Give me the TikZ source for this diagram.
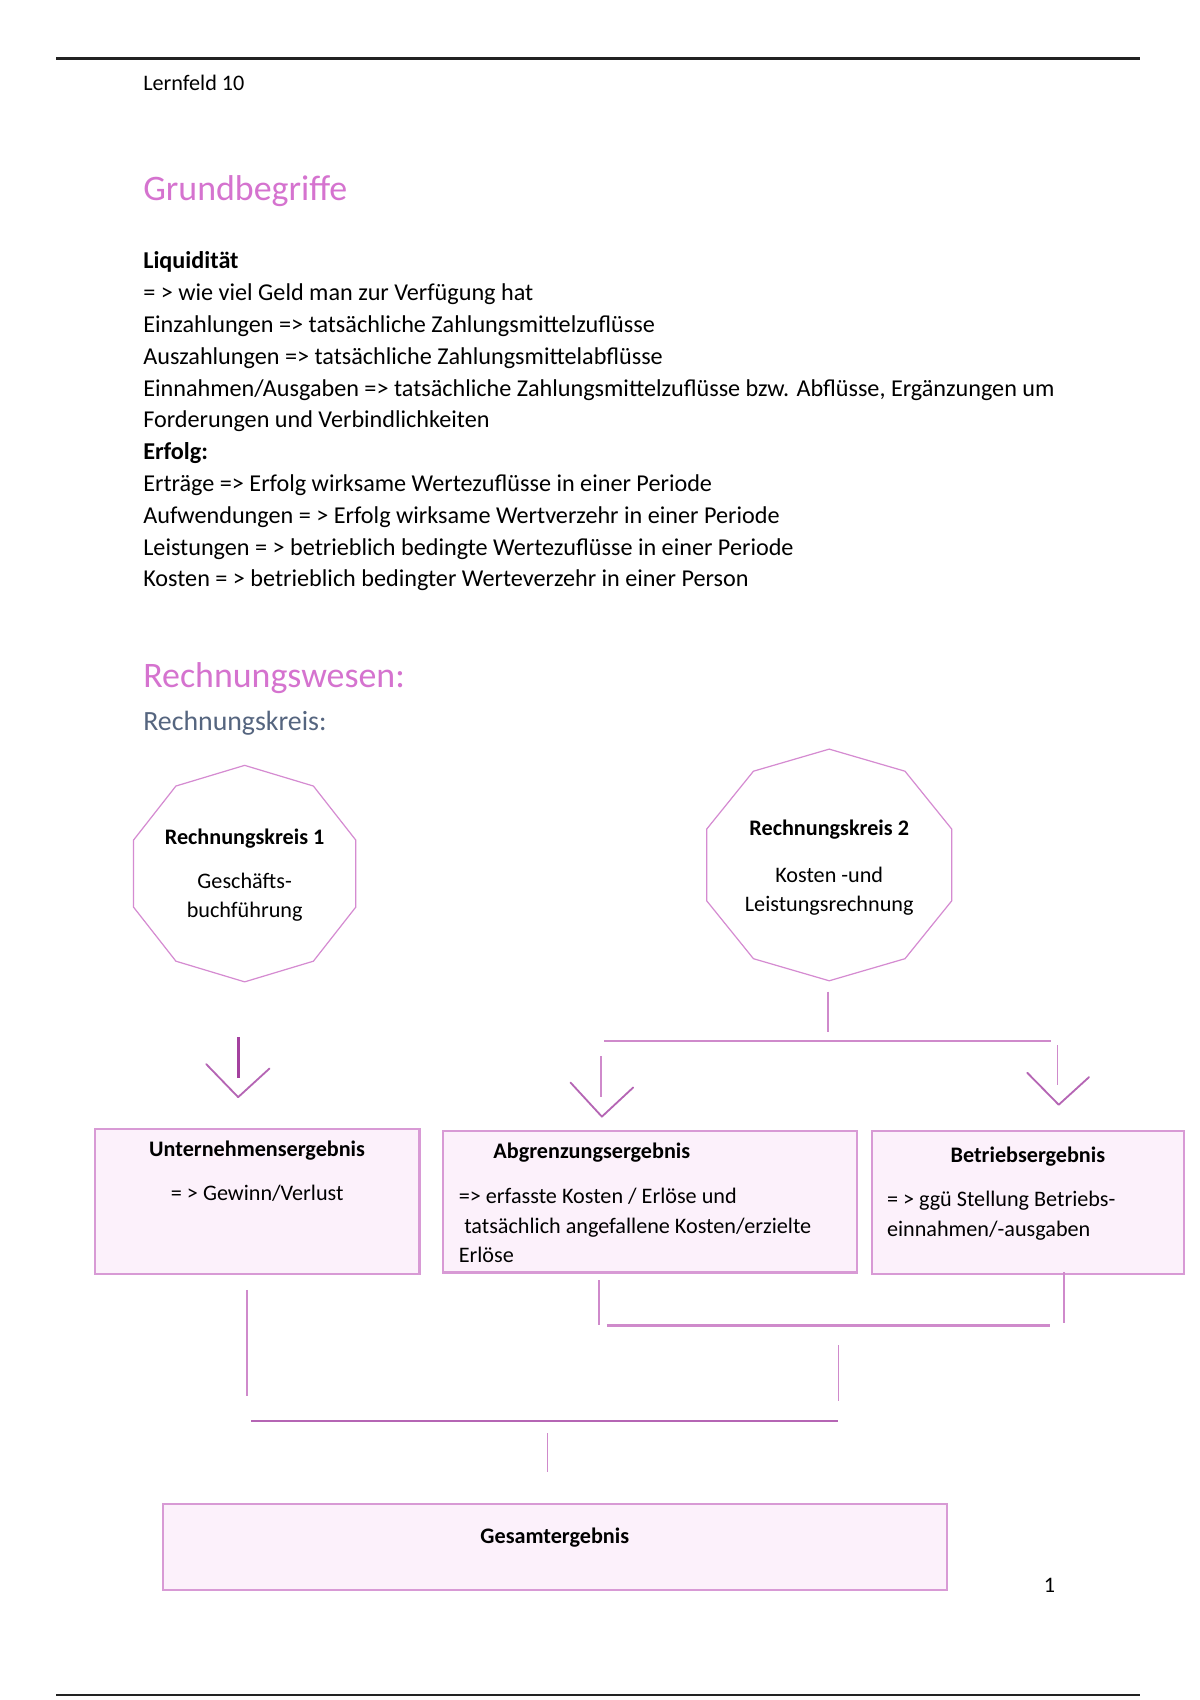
\documentclass[tikz,border=0pt]{standalone}
\usepackage{fontspec}
\setmainfont{Carlito}
\definecolor{headpink}{HTML}{D573CF}
\definecolor{headblue}{HTML}{55657F}
\definecolor{boxline}{HTML}{D89AD5}
\definecolor{boxfill}{HTML}{FCF1FB}
\definecolor{conline}{HTML}{CF8ACB}
\definecolor{darkcon}{HTML}{A4419F}
\definecolor{vcol}{HTML}{B565B4}
\definecolor{polyline}{HTML}{D58BD1}
\definecolor{rulecol}{HTML}{222222}
\tikzset{
  bodytext/.style={anchor=base west,inner sep=0pt,font=\fontsize{11}{13}\selectfont},
  maintext/.style={anchor=base west,inner sep=0pt,font=\fontsize{12}{14}\selectfont},
  mainbold/.style={maintext,font=\fontsize{12}{14}\selectfont\bfseries},
  boldtext/.style={bodytext,font=\fontsize{11}{13}\selectfont\bfseries},
  ctext/.style={anchor=base,inner sep=0pt,font=\fontsize{11}{13}\selectfont},
  cbold/.style={ctext,font=\fontsize{11}{13}\selectfont\bfseries},
  headone/.style={anchor=base west,inner sep=0pt,text=headpink,font=\fontsize{17.8}{21}\selectfont},
  headtwo/.style={anchor=base west,inner sep=0pt,text=headblue,font=\fontsize{13.8}{16}\selectfont},
  resbox/.style={draw=boxline,fill=boxfill,line width=1.1pt},
  conn/.style={draw=conline,line width=0.7pt},
  darkconn/.style={draw=darkcon,line width=1.4pt},
  vshape/.style={draw=vcol,line width=0.9pt,line join=round,line cap=round},
  polyshape/.style={draw=polyline,line width=0.6pt},
  pagerule/.style={draw=rulecol,line width=1.1pt}
}
\begin{document}
\begin{tikzpicture}[x=0.537pt,y=-0.537pt]
\useasboundingbox (0,0) rectangle (1108.5,1570.4);
\fill[white] (0,0) rectangle (1108.5,1570.4);
% page rules
\coordinate (rtl) at (52,54); \coordinate (rtr) at (1053,54);
\draw[pagerule] (rtl) -- (rtr);
\coordinate (rbl) at (52,1566); \coordinate (rbr) at (1053,1566);
\draw[pagerule] (rbl) -- (rbr);
\node[bodytext] (lf) at (132,84) {Lernfeld 10};
% Grundbegriffe
\node[headone] (h1) at (132,185) {Grundbegriffe};
\node[mainbold] (t1) at (132,248) {Liquidität};
\node[maintext] (t2) at (132,278) {= > wie viel Geld man zur Verfügung hat};
\node[maintext] (t3) at (132,307.5) {Einzahlungen => tatsächliche Zahlungsmittelzuflüsse};
\node[maintext] (t4) at (132,337) {Auszahlungen => tatsächliche Zahlungsmittelabflüsse};
\node[maintext] (t5) at (132,366.5) {Einnahmen/Ausgaben => tatsächliche Zahlungsmittelzuflüsse bzw. Abflüsse, Ergänzungen um};
\node[maintext] (t6) at (132,395) {Forderungen und Verbindlichkeiten};
\node[mainbold] (t7) at (132,424.5) {Erfolg:};
\node[maintext] (t8) at (132,454) {Erträge => Erfolg wirksame Wertezuflüsse in einer Periode};
\node[maintext] (t9) at (132,483.5) {Aufwendungen = > Erfolg wirksame Wertverzehr in einer Periode};
\node[maintext] (t10) at (132,513) {Leistungen = > betrieblich bedingte Wertezuflüsse in einer Periode};
\node[maintext] (t11) at (132,542) {Kosten = > betrieblich bedingter Werteverzehr in einer Person};
% Rechnungswesen
\node[headone] (h2) at (132,635) {Rechnungswesen:};
\node[headtwo] (h3) at (132,675) {Rechnungskreis:};
% decagon 1
\coordinate (d1) at (226,807);
\draw[polyshape] (226,707) -- (289.5,726.1) -- (328.7,776.1) -- (328.7,837.9) -- (289.5,887.9) -- (226,907) -- (162.5,887.9) -- (123.3,837.9) -- (123.3,776.1) -- (162.5,726.1) -- cycle;
\node[cbold] (rk1) at (226,780) {Rechnungskreis 1};
\node[ctext] (rk1a) at (226,820.5) {Geschäfts-};
\node[ctext] (rk1b) at (226,847.5) {buchführung};
% decagon 2
\draw[polyshape] (766,692) -- (836,712.4) -- (879.2,765.9) -- (879.2,832.1) -- (836,885.6) -- (766,906) -- (696,885.6) -- (652.8,832.1) -- (652.8,765.9) -- (696,712.4) -- cycle;
\coordinate (d2b) at (766,906);
\node[cbold] (rk2) at (766,772) {Rechnungskreis 2};
\node[ctext] (rk2a) at (766,815) {Kosten -und};
\node[ctext] (rk2b) at (766,842) {Leistungsrechnung};
% connectors from decagon 2
\coordinate (s2a) at (765,916); \coordinate (s2b) at (765,953);
\draw[conn] (s2a) -- (s2b);
\coordinate (hl) at (558,961.5); \coordinate (hr) at (971,961.5);
\draw[conn] (hl) -- (hr);
% arrows
\coordinate (a1t) at (220,958); \coordinate (a1b) at (220,996);
\draw[darkconn] (a1t) -- (a1b);
\coordinate (v1l) at (190.5,983); \coordinate (v1m) at (220,1013.5); \coordinate (v1r) at (249,987);
\draw[vshape] (v1l) -- (v1m) -- (v1r);
\coordinate (a2t) at (555.5,975.5); \coordinate (a2b) at (555.5,1013);
\draw[conn,line width=0.9pt] (a2t) -- (a2b);
\coordinate (v2l) at (527,1000); \coordinate (v2m) at (556,1031.5); \coordinate (v2r) at (585,1004.5);
\draw[vshape] (v2l) -- (v2m) -- (v2r);
\coordinate (a3t) at (977,965.5); \coordinate (a3b) at (977,1002);
\draw[conn] (a3t) -- (a3b);
\coordinate (v3l) at (949,991); \coordinate (v3m) at (978,1020.5); \coordinate (v3r) at (1006,995);
\draw[vshape] (v3l) -- (v3m) -- (v3r);
% result boxes
\draw[resbox] (88,1043) rectangle (387.5,1177);
\node[cbold] (u1) at (237.5,1068.5) {Unternehmensergebnis};
\node[bodytext] (u2) at (157.5,1109) {= > Gewinn/Verlust};
\draw[resbox] (409.5,1045) rectangle (791.5,1175.5);
\node[boldtext] (g1) at (455.5,1070.5) {Abgrenzungsergebnis};
\node[bodytext] (g2) at (423.5,1111.5) {=> erfasste Kosten / Erlöse und};
\node[bodytext] (g3) at (428.5,1139) {tatsächlich angefallene Kosten/erzielte};
\node[bodytext] (g4) at (423.5,1166.5) {Erlöse};
\draw[resbox] (805.5,1045) rectangle (1094,1177);
\node[cbold] (b1) at (949.5,1074) {Betriebsergebnis};
\node[bodytext] (b2) at (819,1114.5) {= > ggü Stellung Betriebs-};
\node[bodytext] (b3) at (819,1142.5) {einnahmen/-ausgaben};
% lower connectors
\coordinate (l1t) at (228,1191.5); \coordinate (l1b) at (228,1290);
\draw[conn] (l1t) -- (l1b);
\coordinate (l2t) at (553.5,1182.5); \coordinate (l2b) at (553.5,1224);
\draw[conn] (l2t) -- (l2b);
\coordinate (h2l) at (560.5,1224.5); \coordinate (h2r) at (969.5,1224.5);
\draw[conn,line width=1.1pt] (h2l) -- (h2r);
\coordinate (l3t) at (983,1175); \coordinate (l3b) at (983,1222);
\draw[conn] (l3t) -- (l3b);
\coordinate (l4t) at (774.5,1242.5); \coordinate (l4b) at (774.5,1294);
\draw[conn] (l4t) -- (l4b);
\coordinate (h3l) at (232,1313); \coordinate (h3r) at (774,1313);
\draw[draw=vcol,line width=1.1pt] (h3l) -- (h3r);
\coordinate (l5t) at (505.5,1324); \coordinate (l5b) at (505.5,1359.5);
\draw[conn] (l5t) -- (l5b);
% total box
\draw[resbox] (150.5,1389) rectangle (875,1468.5);
\node[cbold] (ges) at (512.5,1426) {Gesamtergebnis};
\node[ctext] (pg) at (969.5,1471) {1};
\end{tikzpicture}
\end{document}
